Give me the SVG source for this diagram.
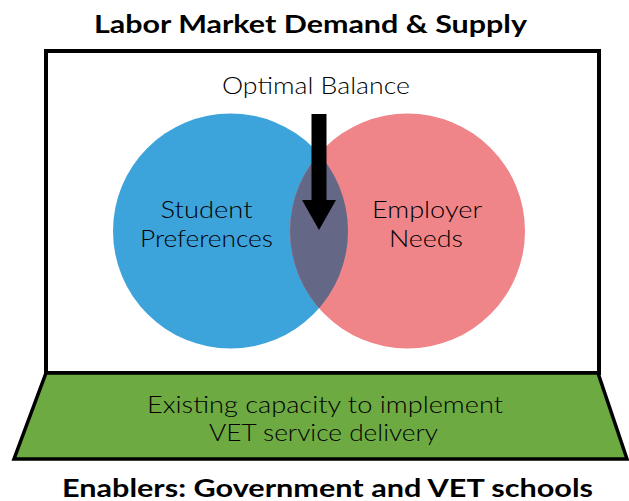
<svg xmlns="http://www.w3.org/2000/svg" width="629" height="501" viewBox="0 0 629 501">
<style>
.title{font-family:Lato,"Open Sans","Liberation Sans",sans-serif;font-weight:700;font-size:25px;fill:#000}
.body{font-family:Lato,"Open Sans","Liberation Sans",sans-serif;font-weight:300;font-size:24px;fill:#000}
.frame{fill:#fff;stroke:#000;stroke-width:4}
</style>
<defs>
<clipPath id="clipBlue"><circle cx="230.5" cy="231" r="117.5"/></clipPath>
</defs>
<rect width="629" height="501" fill="#fff"/>
<text class="title" x="310.5" y="33" text-anchor="middle" textLength="433" lengthAdjust="spacingAndGlyphs">Labor Market Demand &amp; Supply</text>
<g id="frame">
<rect class="frame" x="46" y="51" width="553" height="322"/>
</g>
<g id="optimal-balance">
<text class="body" x="316" y="94" text-anchor="middle" textLength="188" lengthAdjust="spacingAndGlyphs">Optimal Balance</text>
</g>
<g id="student-preferences">
<circle cx="230.5" cy="231" r="117.5" fill="#3DA3DB"/>
</g>
<g id="employer-needs">
<circle cx="407.5" cy="231" r="117.5" fill="#EF8589"/>
<circle cx="407.5" cy="231" r="117.5" fill="#646786" clip-path="url(#clipBlue)"/>
</g>
<text class="body" x="206.5" y="218" text-anchor="middle" textLength="92" lengthAdjust="spacingAndGlyphs">Student</text>
<text class="body" x="206.5" y="247" text-anchor="middle" textLength="133" lengthAdjust="spacingAndGlyphs">Preferences</text>
<text class="body" x="427" y="218" text-anchor="middle" textLength="110" lengthAdjust="spacingAndGlyphs">Employer</text>
<text class="body" x="426" y="247" text-anchor="middle" textLength="74" lengthAdjust="spacingAndGlyphs">Needs</text>
<g id="connectors">
<polygon points="311.5,114 326.5,114 326.5,200 336,200 319,230 302,200 311.5,200" fill="#000"/>
</g>
<g id="enablers-base">
<polygon points="46,373 598,373 627,459 14,459" fill="#6DAA42" stroke="#000" stroke-width="3.5" stroke-linejoin="miter"/>
<text class="body" x="325" y="413" text-anchor="middle" textLength="356" lengthAdjust="spacingAndGlyphs">Existing capacity to implement</text>
<text class="body" x="323.5" y="441" text-anchor="middle" textLength="229" lengthAdjust="spacingAndGlyphs">VET service delivery</text>
</g>
<text class="title" x="327.5" y="497" text-anchor="middle" textLength="531" lengthAdjust="spacingAndGlyphs">Enablers: Government and VET schools</text>
</svg>
